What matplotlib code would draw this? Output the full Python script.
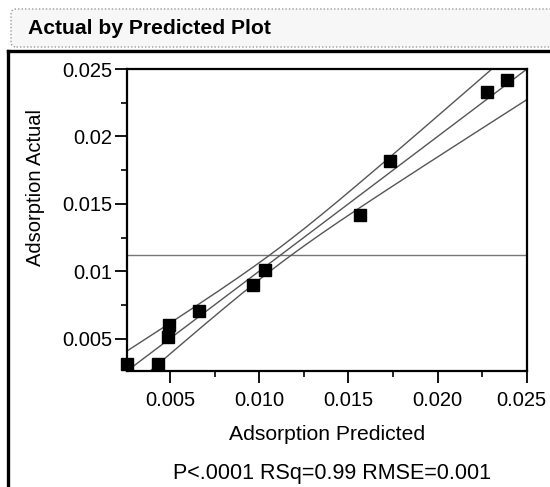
import numpy as np
import matplotlib
matplotlib.use("Agg")
import matplotlib.pyplot as plt
import matplotlib.transforms as mtransforms
from matplotlib.patches import FancyBboxPatch
from matplotlib.lines import Line2D
from matplotlib.ticker import MultipleLocator, FixedFormatter, FixedLocator

# ---- data ----
predicted = [0.00261, 0.00431, 0.00490, 0.00496, 0.00664, 0.00967,
             0.01032, 0.01564, 0.01732, 0.02274, 0.02386]
actual = [0.00312, 0.00312, 0.00515, 0.00604, 0.00708, 0.00899,
          0.01006, 0.01414, 0.01818, 0.02327, 0.02418]
x_ticks = [0.005, 0.010, 0.015, 0.020, 0.025]
x_tick_labels = ["0.005", "0.010", "0.015", "0.020", "0.025"]
y_ticks = [0.005, 0.010, 0.015, 0.020, 0.025]
y_tick_labels = ["0.005", "0.01", "0.015", "0.02", "0.025"]
axis_range = [0.0026, 0.025]
band_center_halfwidth = 0.0006   # confidence curve half-width at the mean
band_slope = 0.158               # growth of half-width away from the mean
title = "Actual by Predicted Plot"
x_label = "Adsorption Predicted"
y_label = "Adsorption Actual"
stats_text = "P<.0001 RSq=0.99 RMSE=0.001"

plt.rcParams['font.family'] = ['Liberation Sans', 'DejaVu Sans']

W, H = 550, 487
fig = plt.figure(figsize=(W / 100, H / 100), dpi=100)

def fx(px):
    return px / W

def fy(py):
    return 1 - py / H

# header box
hdr = FancyBboxPatch((fx(11), fy(47)), fx(560) - fx(11), fy(9) - fy(47),
                     boxstyle="round,pad=0,rounding_size=0.01",
                     transform=fig.transFigure, facecolor="#f7f7f7",
                     edgecolor="#9a9a9a", linewidth=1.0, linestyle=(0, (1, 1.5)))
fig.patches.append(hdr)
fig.text(fx(28), fy(28), title, fontsize=15.2, fontweight="bold",
         ha="left", va="center")

# outer frame (top and left black lines)
fig.add_artist(Line2D([fx(8), fx(551)], [fy(51), fy(51)], color="black",
                      lw=2.4, transform=fig.transFigure))
fig.add_artist(Line2D([fx(8), fx(8)], [fy(51), fy(488)], color="black",
                      lw=2.4, transform=fig.transFigure))

# plot axes
left, right, top, bottom = 127, 527, 69, 371
ax = fig.add_axes([fx(left), fy(bottom), fx(right) - fx(left), fy(top) - fy(bottom)])
ax.set_xlim(axis_range)
ax.set_ylim(axis_range)

xs = np.linspace(axis_range[0], axis_range[1], 400)
xbar = np.mean(predicted)
half = np.sqrt(band_center_halfwidth ** 2 + (band_slope * (xs - xbar)) ** 2)
line_col = "#555555"
ax.plot(xs, xs, color=line_col, lw=1.0, zorder=2)
ax.plot(xs, xs + half, color=line_col, lw=1.0, zorder=2)
ax.plot(xs, xs - half, color=line_col, lw=1.0, zorder=2)
ax.axhline(np.mean(actual), color="#777777", lw=1.0, zorder=1)

ax.plot(predicted, actual, linestyle="none", marker="s", markersize=8.2,
        color="black", zorder=3, clip_on=False)

ax.xaxis.set_major_locator(FixedLocator(x_ticks))
ax.xaxis.set_major_formatter(FixedFormatter(x_tick_labels))
ax.yaxis.set_major_locator(FixedLocator(y_ticks))
ax.yaxis.set_major_formatter(FixedFormatter(y_tick_labels))
ax.xaxis.set_minor_locator(MultipleLocator(0.0025))
ax.yaxis.set_minor_locator(MultipleLocator(0.0025))

for s in ax.spines.values():
    s.set_linewidth(1.6)
    s.set_color("black")
ax.tick_params(which="major", length=8.5, width=1.3, labelsize=14.5,
               direction="out")
ax.tick_params(which="minor", length=4.5, width=1.2, direction="out")
ax.tick_params(axis="x", which="major", pad=6)
ax.tick_params(axis="y", which="major", pad=2)

# nudge the last x tick label so it stays inside the figure
fig.canvas.draw()
last = ax.get_xticklabels()[-1]
last.set_transform(last.get_transform() +
                   mtransforms.ScaledTranslation(-6 / 100, 0, fig.dpi_scale_trans))

fig.text(fx(327), fy(434), x_label, fontsize=15.2, ha="center", va="center")
fig.text(fx(332), fy(473), stats_text, fontsize=15.5, ha="center", va="center")
fig.text(fx(36), fy(187), y_label, fontsize=14.5, ha="center", va="center",
         rotation=90)

fig.savefig("out.png", dpi=100)
